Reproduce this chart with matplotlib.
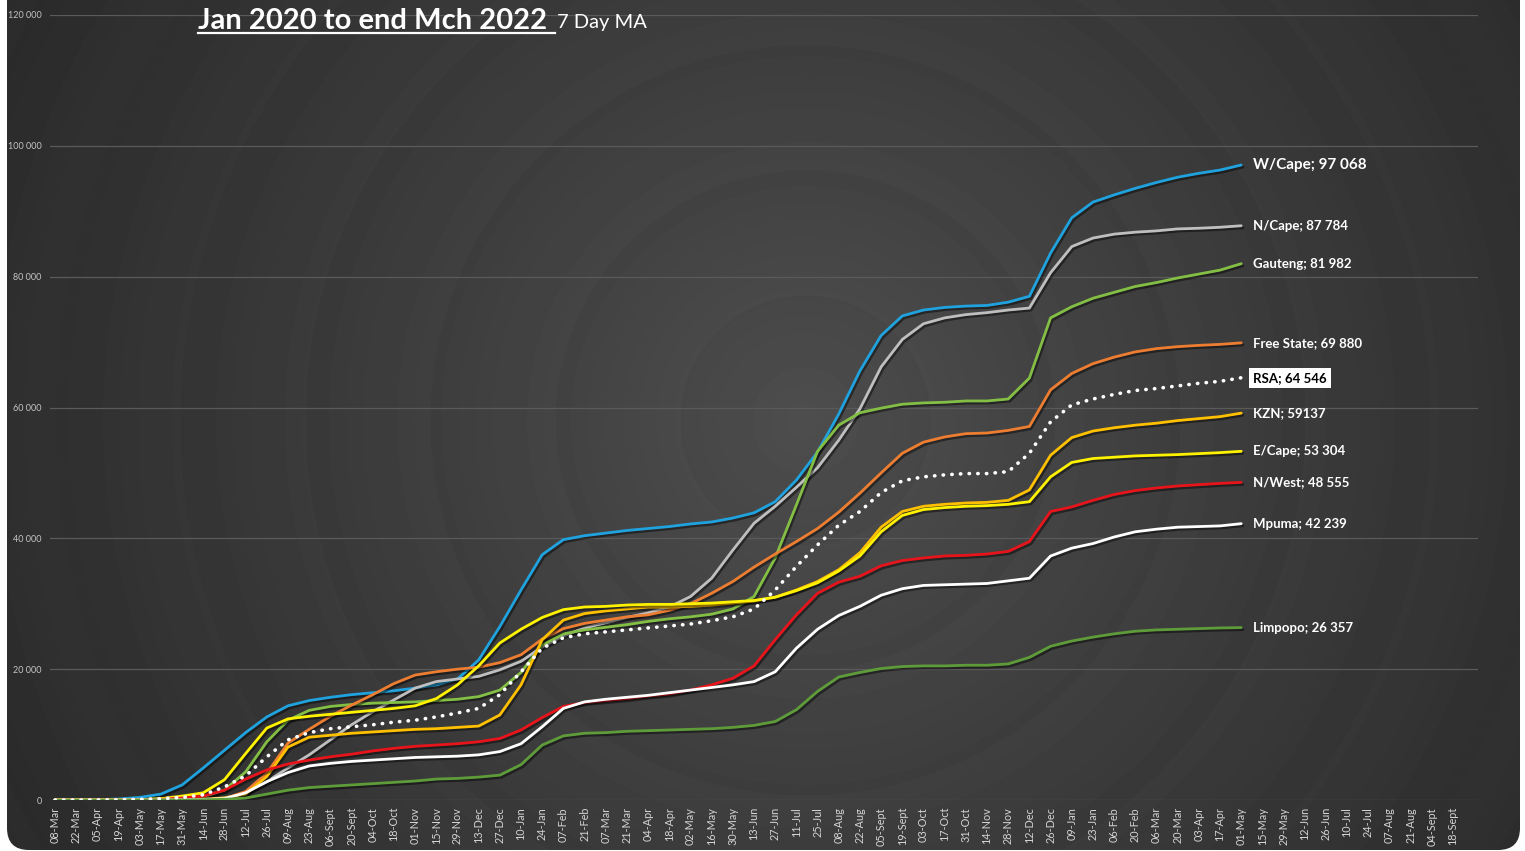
import matplotlib
matplotlib.use('Agg')
import matplotlib.pyplot as plt
import matplotlib.patheffects as pe
from matplotlib.patches import FancyBboxPatch
from matplotlib.lines import Line2D
import numpy as np

# cumulative values (thousands), one value every 14 days from 08-Mar-2020 to 01-May-2022
wcape = [0, 0.02, 0.05, 0.15, 0.4, 0.9, 2.3, 4.9, 7.6, 10.3,
         12.7, 14.4, 15.2, 15.7, 16.1, 16.4, 16.7, 17.1, 17.6, 18.5,
         21.4, 26.5, 32.1, 37.5, 39.8, 40.4, 40.8, 41.2, 41.5, 41.8,
         42.2, 42.5, 43.1, 43.9, 45.6, 48.9, 53.2, 59.0, 65.6, 71.0,
         74.0, 74.9, 75.3, 75.5, 75.6, 76.1, 77.0, 83.6, 89.0, 91.4,
         92.5, 93.5, 94.4, 95.2, 95.8, 96.3, 97.068]
ncape = [0, 0, 0, 0, 0.01, 0.02, 0.05, 0.1, 0.3, 1.1,
         2.8, 4.9, 6.9, 9.2, 11.5, 13.5, 15.3, 17.1, 18.1, 18.5,
         18.9, 19.9, 21.2, 23.4, 25.1, 26.3, 27.1, 27.9, 28.6, 29.5,
         31.1, 33.9, 38.2, 42.3, 44.9, 47.8, 50.8, 55.0, 59.8, 66.2,
         70.4, 72.8, 73.7, 74.2, 74.5, 74.9, 75.2, 80.6, 84.6, 85.9,
         86.5, 86.8, 87.0, 87.3, 87.4, 87.55, 87.784]
gauteng = [0, 0, 0.01, 0.03, 0.08, 0.15, 0.3, 0.5, 1.5, 4.3,
           8.9, 12.2, 13.7, 14.3, 14.6, 14.8, 14.9, 15.0, 15.2, 15.4,
           15.8, 16.8, 19.5, 23.7, 25.4, 26.0, 26.4, 26.8, 27.3, 27.7,
           28.0, 28.4, 29.2, 31.1, 37.0, 45.1, 53.3, 57.3, 59.2, 59.9,
           60.5, 60.7, 60.8, 61.0, 61.0, 61.3, 64.5, 73.7, 75.4, 76.7,
           77.6, 78.5, 79.1, 79.8, 80.4, 81.0, 81.982]
freestate = [0, 0, 0, 0, 0.01, 0.02, 0.04, 0.08, 0.2, 1.3,
             4.1, 8.7, 10.8, 12.8, 14.5, 16.1, 17.8, 19.1, 19.6, 20.0,
             20.3, 21.0, 22.2, 24.6, 26.2, 27.0, 27.5, 28.0, 28.3, 29.0,
             30.0, 31.6, 33.4, 35.6, 37.6, 39.5, 41.5, 44.0, 46.9, 50.0,
             53.0, 54.7, 55.5, 56.0, 56.1, 56.5, 57.1, 62.7, 65.2, 66.7,
             67.7, 68.5, 69.0, 69.3, 69.5, 69.65, 69.88]
rsa = [0, 0, 0.01, 0.03, 0.1, 0.2, 0.4, 0.8, 2.0, 3.7,
       6.6, 9.2, 10.3, 10.9, 11.2, 11.5, 11.9, 12.2, 12.7, 13.3,
       14.0, 16.1, 19.6, 23.2, 24.8, 25.4, 25.7, 26.0, 26.3, 26.6,
       26.9, 27.4, 28.0, 29.2, 32.1, 35.7, 39.0, 42.0, 44.1, 47.0,
       48.8, 49.4, 49.7, 49.9, 49.9, 50.2, 53.0, 57.8, 60.4, 61.3,
       62.0, 62.6, 62.9, 63.3, 63.7, 64.0, 64.546]
kzn = [0, 0, 0, 0.01, 0.02, 0.04, 0.08, 0.15, 0.3, 0.9,
       3.6, 8.1, 9.6, 9.9, 10.2, 10.4, 10.6, 10.8, 10.9, 11.1,
       11.3, 13.0, 17.6, 24.5, 27.5, 28.5, 28.9, 29.2, 29.5, 29.5,
       29.6, 29.8, 30.1, 30.4, 31.0, 32.1, 33.4, 35.2, 37.8, 41.7,
       44.1, 44.9, 45.2, 45.4, 45.5, 45.8, 47.4, 52.7, 55.4, 56.4,
       56.9, 57.3, 57.6, 58.0, 58.3, 58.6, 59.137]
ecape = [0, 0, 0.01, 0.02, 0.05, 0.2, 0.6, 1.1, 3.1, 7.1,
         11.0, 12.4, 12.8, 13.1, 13.4, 13.7, 14.0, 14.4, 15.5, 17.6,
         20.5, 24.0, 26.1, 27.9, 29.1, 29.5, 29.6, 29.8, 29.9, 29.9,
         30.0, 30.1, 30.3, 30.5, 31.0, 32.0, 33.2, 35.0, 37.3, 41.0,
         43.5, 44.4, 44.7, 44.9, 45.0, 45.2, 45.6, 49.4, 51.6, 52.2,
         52.4, 52.6, 52.7, 52.8, 52.95, 53.1, 53.304]
nwest = [0, 0, 0, 0.01, 0.03, 0.1, 0.3, 0.6, 1.5, 3.2,
         4.6, 5.5, 6.1, 6.6, 7.0, 7.5, 7.9, 8.2, 8.4, 8.6,
         8.9, 9.4, 10.7, 12.6, 14.3, 14.9, 15.2, 15.5, 15.9, 16.2,
         16.8, 17.6, 18.6, 20.5, 24.5, 28.3, 31.6, 33.3, 34.2, 35.8,
         36.6, 37.0, 37.3, 37.4, 37.6, 38.0, 39.5, 44.1, 44.8, 45.8,
         46.7, 47.3, 47.7, 48.0, 48.2, 48.4, 48.555]
mpuma = [0, 0, 0, 0, 0.01, 0.02, 0.05, 0.1, 0.2, 1.1,
         2.8, 4.2, 5.2, 5.6, 5.9, 6.1, 6.3, 6.5, 6.6, 6.7,
         6.9, 7.4, 8.6, 11.2, 14.0, 15.0, 15.4, 15.7, 16.0, 16.4,
         16.8, 17.2, 17.6, 18.1, 19.6, 23.2, 26.1, 28.2, 29.6, 31.3,
         32.3, 32.8, 32.9, 33.0, 33.1, 33.5, 33.9, 37.3, 38.5, 39.2,
         40.2, 41.0, 41.4, 41.7, 41.8, 41.9, 42.239]
limpopo = [0, 0, 0, 0, 0, 0.01, 0.02, 0.05, 0.1, 0.3,
           0.9, 1.5, 1.9, 2.1, 2.3, 2.5, 2.7, 2.9, 3.2, 3.3,
           3.5, 3.8, 5.4, 8.4, 9.8, 10.2, 10.3, 10.5, 10.6, 10.7,
           10.8, 10.9, 11.1, 11.4, 12.0, 13.8, 16.6, 18.8, 19.5, 20.1,
           20.4, 20.5, 20.5, 20.6, 20.6, 20.8, 21.8, 23.5, 24.3, 24.9,
           25.4, 25.8, 26.0, 26.1, 26.2, 26.3, 26.357]

end_labels = ['W/Cape; 97 068', 'N/Cape; 87 784', 'Gauteng; 81 982', 'Free State; 69 880',
              'RSA; 64 546', 'KZN; 59137', 'E/Cape; 53 304', 'N/West; 48 555',
              'Mpuma; 42 239', 'Limpopo; 26 357']

tick_labels = ['08-Mar', '22-Mar', '05-Apr', '19-Apr', '03-May', '17-May', '31-May', '14-Jun',
               '28-Jun', '12-Jul', '26-Jul', '09-Aug', '23-Aug', '06-Sept', '20-Sept', '04-Oct',
               '18-Oct', '01-Nov', '15-Nov', '29-Nov', '13-Dec', '27-Dec', '10-Jan', '24-Jan',
               '07-Feb', '21-Feb', '07-Mar', '21-Mar', '04-Apr', '18-Apr', '02-May', '16-May',
               '30-May', '13-Jun', '27-Jun', '11-Jul', '25-Jul', '08-Aug', '22-Aug', '05-Sept',
               '19-Sept', '03-Oct', '17-Oct', '31-Oct', '14-Nov', '28-Nov', '12-Dec', '26-Dec',
               '09-Jan', '23-Jan', '06-Feb', '20-Feb', '06-Mar', '20-Mar', '03-Apr', '17-Apr',
               '01-May', '15-May', '29-May', '12-Jun', '26-Jun', '10-Jul', '24-Jul', '07-Aug',
               '21-Aug', '04-Sept', '18-Sept']

FONT = 'Lato'
W, H = 1525, 851

fig = plt.figure(figsize=(W / 100, H / 100), dpi=100, facecolor='white')

# dark card with a ringed radial gradient
bg = fig.add_axes([0, 0, 1, 1])
bg.set_xlim(0, W)
bg.set_ylim(H, 0)
bg.axis('off')
yy, xx = np.mgrid[0:H, 0:W]
r = np.hypot(xx - 805, yy - 420)
shade = 0.305 - 0.14 * (r / 950) - 0.010 * ((r % 125) / 125)
shade = np.clip(shade, 0.13, 1)
img = bg.imshow(shade, extent=(0, W, H, 0), cmap='gray', vmin=0, vmax=1,
                aspect='auto', interpolation='bilinear')
card = FancyBboxPatch((7, -40), 1513, 890, boxstyle='round,pad=0,rounding_size=22',
                      transform=bg.transData, facecolor='none', edgecolor='none')
bg.add_patch(card)
img.set_clip_path(card)

ax = fig.add_axes([50 / W, 51 / H, 1428 / W, 785 / H])
ax.patch.set_alpha(0)
for s in ax.spines.values():
    s.set_visible(False)

x = np.arange(len(wcape)) * 14
shadow = [pe.SimpleLineShadow(offset=(1.2, -1.5), shadow_color='black', alpha=0.45), pe.Normal()]

series = [
    (wcape, '#1FA2DD'),
    (ncape, '#BFBFBF'),
    (gauteng, '#84BF45'),
    (freestate, '#ED7D31'),
    (kzn, '#FFC000'),
    (ecape, '#FFF200'),
    (nwest, '#E8141B'),
    (mpuma, '#FFFFFF'),
    (limpopo, '#5E9C3A'),
]
for vals, col in series:
    ax.plot(x, np.array(vals) * 1000, color=col, lw=2.0, solid_capstyle='round',
            solid_joinstyle='round', path_effects=shadow, zorder=3)

ax.plot(x, np.array(rsa) * 1000, color='white', lw=2.6, linestyle=(0, (0.1, 2.3)),
        dash_capstyle='round', zorder=4)

# end of line labels
ends = [wcape, ncape, gauteng, freestate, rsa, kzn, ecape, nwest, mpuma, limpopo]
for vals, lab in zip(ends, end_labels):
    size = 11 if lab.startswith('W/Cape') else 9.5
    if lab.startswith('RSA'):
        ax.annotate(lab, (x[-1], vals[-1] * 1000), xytext=(12, 0), textcoords='offset pixels',
                    va='center', ha='left', fontsize=size, fontweight='bold', color='black',
                    family=FONT, bbox=dict(boxstyle='square,pad=0.3', fc='white', ec='none'))
    else:
        ax.annotate(lab, (x[-1], vals[-1] * 1000), xytext=(12, 0), textcoords='offset pixels',
                    va='center', ha='left', fontsize=size, fontweight='bold', color='white',
                    family=FONT)

ax.set_ylim(0, 120000)
ax.set_xlim(-3.3, 940.5)
ax.set_yticks(np.arange(0, 120001, 20000))
ax.set_yticklabels(['{:,}'.format(v).replace(',', ' ') for v in range(0, 120001, 20000)],
                   fontsize=6.5, color='#c4c4c4', family=FONT)
ax.set_xticks(np.arange(len(tick_labels)) * 14)
ax.set_xticklabels(tick_labels, rotation=90, fontsize=7.8, color='#d4d4d4', family=FONT)
ax.tick_params(axis='both', length=0)
ax.tick_params(axis='x', pad=5)
ax.tick_params(axis='y', pad=6)
ax.grid(axis='y', color='#5a5a5a', lw=0.9)
ax.set_axisbelow(True)

# title with underline
t1 = fig.text(198 / W, 1 - 29 / H, 'Jan 2020 to end Mch 2022', fontsize=21, fontweight='bold',
              color='white', family=FONT, va='baseline', ha='left')
fig.canvas.draw()
rend = fig.canvas.get_renderer()
bb = t1.get_window_extent(rend)
fig.add_artist(Line2D([bb.x0 / W, (bb.x1 + 8) / W], [(H - 33) / H, (H - 33) / H],
                      transform=fig.transFigure, color='white', lw=1.6))
fig.text((bb.x1 + 10) / W, 1 - 28 / H, '7 Day MA', fontsize=14.5, color='white',
         family=FONT, va='baseline', ha='left')

fig.savefig('out.png', dpi=100, facecolor='white')
